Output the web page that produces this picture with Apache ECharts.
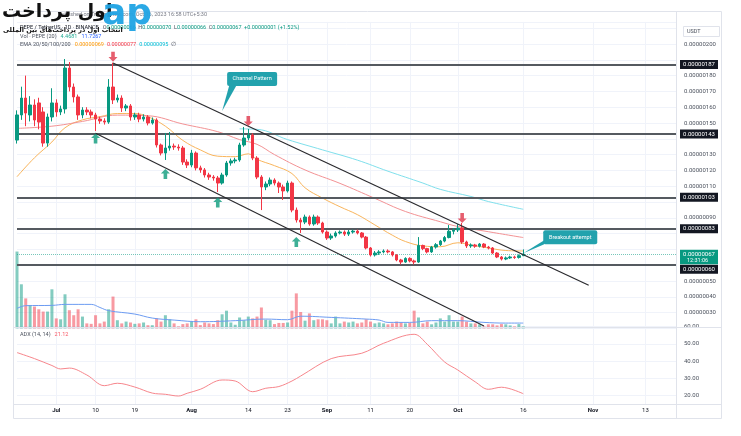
<!DOCTYPE html>
<html><head><meta charset="utf-8"><title>PEPE / TetherUS</title>
<script src="https://cdn.jsdelivr.net/npm/echarts@6/dist/echarts.min.js"></script>
<style>html,body{margin:0;padding:0;background:#fff}#c{width:741px;height:436px}</style>
</head><body><div id="c"></div>
<script>
// ---- data (prices in units of 0.00000001 USDT) ----
const SCALE = 1e-8;
const START_DATE = '2023-06-22';
const DAY_COUNT = 152;
const tickDates = ['2023-07-01','2023-07-10','2023-07-19','2023-08-01','2023-08-14','2023-08-23','2023-09-01','2023-09-11','2023-09-20','2023-10-01','2023-10-16','2023-11-01','2023-11-13'];
const tickLabels = ['Jul','10','19','Aug','14','23','Sep','11','20','Oct','16','Nov','13'];
const monthLabels = ['Jul','Aug','Sep','Oct','Nov'];
// [open, close, low, high]
const ohlc = [
[139.2,155.1,137.0,158.0],[155.1,165.8,152.0,173.0],[165.8,156.3,148.0,180.0],[155.1,161.4,151.0,167.0],
[161.4,151.9,148.0,165.0],[162.7,150.6,146.0,166.0],[157.0,137.3,135.0,160.0],[137.3,153.8,135.0,156.0],
[153.8,162.7,151.0,172.0],[162.7,157.0,154.0,165.0],[157.0,158.9,155.0,161.0],[158.9,184.8,156.0,190.5],
[184.8,172.8,170.0,188.6],[172.8,166.5,163.0,175.0],[166.5,155.1,152.0,168.0],[155.1,158.2,153.0,160.0],
[158.2,157.0,155.0,160.0],[157.0,155.1,153.0,158.5],[155.1,152.5,144.9,156.5],[152.5,151.3,149.5,154.0],
[151.3,150.6,149.0,153.0],[150.6,172.8,149.5,177.8],[172.8,164.6,162.0,188.2],[164.6,165.8,163.0,168.0],
[165.8,159.5,157.0,167.5],[159.5,160.8,157.5,162.0],[160.8,153.8,151.5,162.0],[153.8,155.1,152.0,156.5],
[155.1,152.5,150.5,156.5],[152.5,153.8,151.0,155.5],[153.8,150.0,148.5,155.0],[150.0,151.9,149.0,153.5],
[151.9,136.1,134.5,153.0],[136.1,131.0,129.5,137.0],[131.0,134.2,126.6,143.7],[134.2,135.4,132.5,144.3],
[135.4,134.8,133.0,137.0],[134.8,134.2,132.5,136.5],[134.2,125.3,123.5,135.5],[125.3,123.4,121.5,127.0],
[123.4,131.0,122.0,133.0],[131.0,121.6,120.0,132.0],[121.6,120.3,118.5,123.0],[120.3,117.1,115.5,121.5],
[117.1,115.8,114.0,118.5],[115.8,115.2,113.5,117.0],[115.2,112.0,106.3,116.5],[112.0,117.1,111.0,118.5],
[117.1,124.7,116.0,126.0],[124.7,126.0,123.0,127.5],[126.0,126.6,124.5,128.0],[126.6,136.1,125.5,137.5],
[136.1,140.5,135.0,147.5],[140.5,142.4,139.0,146.2],[142.4,127.8,126.5,143.5],[127.8,115.8,114.5,129.0],
[115.8,109.5,94.9,117.0],[109.5,111.4,107.5,113.0],[111.4,113.9,110.0,115.5],[113.9,112.0,110.5,115.0],
[112.0,109.5,105.7,113.0],[109.5,107.0,101.3,111.0],[107.0,112.0,106.0,113.5],[112.0,94.9,93.5,113.0],
[94.9,88.6,87.0,96.5],[88.6,87.3,80.4,90.0],[87.3,90.5,86.0,92.0],[90.5,86.1,85.0,91.5],
[86.1,90.5,85.0,92.0],[90.5,86.7,85.5,91.5],[86.7,81.0,80.0,87.5],[81.0,77.2,76.0,82.0],
[77.2,78.5,76.0,80.0],[78.5,80.4,77.5,81.5],[80.4,81.0,79.5,82.0],[81.0,79.7,78.5,82.0],
[79.7,81.0,78.5,82.3],[81.0,81.6,80.0,82.5],[81.6,80.4,79.5,82.5],[80.4,77.8,77.0,81.0],
[77.8,70.9,70.0,78.5],[70.9,66.5,65.5,71.5],[66.5,67.7,65.5,69.0],[67.7,68.4,66.5,69.5],
[68.4,69.0,67.5,70.0],[69.0,68.4,67.5,70.0],[68.4,66.5,65.5,69.0],[66.5,63.3,62.5,67.0],
[63.3,62.0,60.5,64.0],[62.0,64.3,61.5,65.0],[64.3,62.7,61.8,65.0],[62.7,62.0,60.5,63.5],
[62.0,72.5,61.5,77.8],[72.5,70.5,69.5,73.0],[70.5,68.4,67.5,71.0],[68.4,71.5,67.8,72.2],
[71.5,73.0,70.5,74.0],[73.0,75.3,72.2,76.0],[75.3,77.5,74.5,78.5],[77.5,81.5,77.0,85.4],
[81.5,82.3,79.5,83.5],[82.3,83.5,81.0,86.0],[83.5,74.7,73.5,86.7],[74.7,72.2,70.9,75.5],
[72.2,72.8,71.0,73.8],[72.8,72.0,71.0,73.5],[72.0,73.4,71.2,74.0],[73.4,71.5,70.8,74.0],
[71.5,70.9,70.0,72.2],[70.9,67.7,67.0,71.5],[67.7,65.2,64.5,68.3],[65.2,63.9,63.0,65.8],
[63.9,64.6,63.2,65.5],[64.6,65.2,64.0,66.0],[65.2,64.9,64.0,66.0],[64.9,66.0,64.2,66.8],
[66.0,67.0,66.0,70.0]
];
// volume (trillions of PEPE)
const volumes = [169,97,66,51,48,42,37,37,86,22,20,75,40,29,42,26,11,10,29,11,15,42,70,18,11,15,13,10,11,13,7,7,22,15,29,20,11,4.4,9.5,11,15,20,7.3,13,11,9.5,18,31,39,13,8,24,18,26,22,26,46,19,18,9.5,12,12,13,39,77,36,17,33,18,20,20,18,11,26,11,15,13,15,11,13,20,15,11,13,11,9,11,15,13,11,12,39,24,11,15,9,13,22,15,29,15,15,26,15,11,11,9,4.4,9,9,6.6,9.5,9,6.6,4.4,9.5,4.4681];
const volumeMA = [['2023-06-22',44],['2023-06-24',50],['2023-06-30',50.6],['2023-07-03',52.8],['2023-07-09',52.8],['2023-07-11',46],['2023-07-13',39],['2023-07-19',31.5],['2023-07-23',22.7],['2023-07-28',18.3],['2023-08-03',14.7],['2023-08-11',17],['2023-08-18',20.5],['2023-08-23',19.1],['2023-08-26',26.8],['2023-09-02',24.2],['2023-09-10',20.5],['2023-09-13',18.3],['2023-09-15',13.2],['2023-09-20',13.2],['2023-09-25',17],['2023-10-01',17],['2023-10-07',13.2],['2023-10-12',11.7],['2023-10-16',11.7267]];
const ema20 = [['2023-06-22',116],['2023-06-26',128],['2023-06-30',138],['2023-07-03',147],['2023-07-07',152],['2023-07-11',154],['2023-07-15',156],['2023-07-19',156],['2023-07-22',154],['2023-07-26',148],['2023-07-30',139],['2023-08-03',133],['2023-08-07',129],['2023-08-11',128.7],['2023-08-14',130.5],['2023-08-16',127],['2023-08-20',123],['2023-08-24',118],['2023-08-27',109],['2023-08-31',102.5],['2023-09-04',97],['2023-09-08',92],['2023-09-12',85.5],['2023-09-16',79],['2023-09-19',75],['2023-09-23',72.2],['2023-09-27',71.7],['2023-10-01',74.2],['2023-10-04',72.8],['2023-10-08',70.9],['2023-10-12',69.3],['2023-10-16',69]];
const ema50 = [['2023-06-22',146.6],['2023-06-30',148],['2023-07-07',151],['2023-07-15',155],['2023-07-22',154.6],['2023-07-30',149.4],['2023-08-07',144.5],['2023-08-12',139.5],['2023-08-16',136.5],['2023-08-20',130],['2023-08-27',120.3],['2023-09-04',111.8],['2023-09-12',102.3],['2023-09-19',94],['2023-09-27',87.5],['2023-10-01',84.5],['2023-10-08',81.2],['2023-10-16',77.5]];
const ema100 = [['2023-08-12',146.3],['2023-08-16',146],['2023-08-23',139.5],['2023-08-31',133],['2023-09-08',126.5],['2023-09-15',119.5],['2023-09-23',112],['2023-09-27',108],['2023-10-04',103.5],['2023-10-08',100.3],['2023-10-16',95.4]];
const adx = [['2023-06-22',45],['2023-06-26',41.5],['2023-06-30',37.5],['2023-07-02',35.5],['2023-07-04',36],['2023-07-08',32],['2023-07-12',25.8],['2023-07-15',27.2],['2023-07-19',25],['2023-07-23',21.5],['2023-07-26',20.8],['2023-07-29',19.8],['2023-07-31',21.4],['2023-08-03',23.7],['2023-08-08',29.1],['2023-08-11',28.5],['2023-08-15',22.3],['2023-08-18',24.3],['2023-08-21',25.3],['2023-08-24',28.5],['2023-08-26',31.4],['2023-09-02',41.5],['2023-09-09',44.6],['2023-09-14',50.4],['2023-09-21',55.6],['2023-09-24',49.8],['2023-09-28',39.5],['2023-10-01',34.9],['2023-10-05',28],['2023-10-08',23.7],['2023-10-11',24.9],['2023-10-16',21.12]];
const levels = [187, 143, 103, 83, 60];
const lastPrice = 67;
const channelUpper = [['2023-07-14',188.0],['2023-10-31',47.3]];
const channelLower = [['2023-07-10',143.5],['2023-10-07',21.5]];
const sellArrows = [['2023-07-14',192.0],['2023-08-14',151.3],['2023-10-02',89.9]];
const buyArrows = [['2023-07-10',140.2],['2023-07-26',117.7],['2023-08-07',99.7],['2023-08-25',74.7]];
const callouts = [
  {text:'Channel Pattern', at:['2023-08-08',157.6], box:[5,-39,50,14], tail:[[7,-25],[14,-25]]},
  {text:'Breakout attempt', at:['2023-10-16',67.6], box:[20,-23,54,14], tail:[[21,-13],[21,-9]]}
];

// ---- build ----
const cats = [];
{ const d0 = Date.parse(START_DATE + 'T00:00:00Z');
  for (let i = 0; i < DAY_COUNT; i++) cats.push(new Date(d0 + i * 86400000).toISOString().slice(0, 10)); }
const tickMap = new Map(tickDates.map((d, i) => [d, tickLabels[i]]));
const isTick = (i, v) => tickMap.has(v);
const UP = '#089981', DOWN = '#f23645';
const FONT = 'Roboto';
const GRID_C = '#f0f3fa';
const hiddenPriceLabels = new Set([20, 60, 70, 80, 100, 140, 190, 210]);

const chart = echarts.init(document.getElementById('c'), null, {renderer: 'canvas'});
const option = {
  animation: false,
  backgroundColor: '#ffffff',
  grid: [
    {left: 17, right: 65, top: 21.9, height: 306.5},
    {left: 17, right: 65, top: 326.7, height: 77.6}
  ],
  xAxis: [
    {type: 'category', gridIndex: 0, data: cats, boundaryGap: false,
     axisLine: {show: false}, axisTick: {show: false}, axisLabel: {show: false},
     splitLine: {show: true, interval: isTick, lineStyle: {color: GRID_C, width: 1}}},
    {type: 'category', gridIndex: 1, data: cats, boundaryGap: false,
     axisLine: {show: false}, axisTick: {show: false},
     axisLabel: {interval: isTick, margin: 3, fontFamily: FONT, fontSize: 6, color: '#131722',
       formatter: v => { const t = tickMap.get(v) || ''; return monthLabels.includes(t) ? '{m|' + t + '}' : t; },
       rich: {m: {fontWeight: 'bold', fontSize: 6, fontFamily: FONT, color: '#131722'}}},
     splitLine: {show: true, interval: isTick, lineStyle: {color: GRID_C, width: 1}}}
  ],
  yAxis: [
    {type: 'value', gridIndex: 0, position: 'right', min: 20, max: 214, interval: 10, scale: false,
     axisLine: {show: false}, axisTick: {show: false},
     axisLabel: {margin: 8, fontFamily: FONT, fontSize: 6, color: '#4c525e', showMaxLabel: false,
       formatter: v => { const r = Math.round(v); return hiddenPriceLabels.has(r) ? '' : (r * SCALE).toFixed(8); }},
     splitLine: {lineStyle: {color: GRID_C, width: 1}}},
    {type: 'value', gridIndex: 0, min: 0, max: 674, show: false, splitLine: {show: false}},
    {type: 'value', gridIndex: 1, position: 'right', min: 15, max: 60, interval: 5,
     axisLine: {show: false}, axisTick: {show: false},
     axisLabel: {margin: 8, fontFamily: FONT, fontSize: 6, color: '#4c525e',
       formatter: v => (Math.round(v) % 10 === 0 ? v.toFixed(2) : '')},
     splitLine: {lineStyle: {color: ['rgba(0,0,0,0)', GRID_C], width: 1}}}
  ],
  series: [
    {type: 'bar', name: 'Vol', xAxisIndex: 0, yAxisIndex: 1, barWidth: 3, z: 1,
     data: volumes.map((v, i) => ({value: v, itemStyle: {color: ohlc[i][1] >= ohlc[i][0] ? 'rgba(8,153,129,0.5)' : 'rgba(242,54,69,0.5)'}}))},
    {type: 'line', name: 'Vol MA', xAxisIndex: 0, yAxisIndex: 1, data: volumeMA, showSymbol: false, smooth: 0.4, z: 2,
     lineStyle: {color: '#6d9cf2', width: 1}},
    {type: 'line', name: 'EMA20', xAxisIndex: 0, yAxisIndex: 0, data: ema20, showSymbol: false, smooth: 0.4, z: 3,
     lineStyle: {color: '#f9b55c', width: 1}},
    {type: 'line', name: 'EMA50', xAxisIndex: 0, yAxisIndex: 0, data: ema50, showSymbol: false, smooth: 0.4, z: 3,
     lineStyle: {color: '#f39294', width: 1}},
    {type: 'line', name: 'EMA100', xAxisIndex: 0, yAxisIndex: 0, data: ema100, showSymbol: false, smooth: 0.4, z: 3,
     lineStyle: {color: '#7fe0ec', width: 1}},
    {type: 'candlestick', name: 'PEPE', xAxisIndex: 0, yAxisIndex: 0, data: ohlc, barWidth: 3, z: 5,
     itemStyle: {color: UP, color0: DOWN, borderColor: UP, borderColor0: DOWN, borderWidth: 1},
     markLine: {symbol: ['none', 'none'], silent: true, label: {show: false}, z: 4,
       data: levels.map(v => ({yAxis: v, lineStyle: {color: '#555a60', width: 2, type: 'solid'}}))
         .concat([{yAxis: lastPrice, lineStyle: {color: 'rgba(8,153,129,0.55)', width: 1, type: 'dotted'}}])}},
    {type: 'line', name: 'Channel upper', xAxisIndex: 0, yAxisIndex: 0, data: channelUpper, showSymbol: false, z: 6,
     lineStyle: {color: '#2a2a2e', width: 1.2}},
    {type: 'line', name: 'Channel lower', xAxisIndex: 0, yAxisIndex: 0, data: channelLower, showSymbol: false, z: 6,
     lineStyle: {color: '#2a2a2e', width: 1.2}},
    {type: 'scatter', name: 'Sell', xAxisIndex: 0, yAxisIndex: 0, data: sellArrows, z: 7,
     symbol: 'path://M3,0 L7,0 L7,6 L10,6 L5,11 L0,6 L3,6 Z', symbolSize: [9, 10],
     itemStyle: {color: '#e0364a'}},
    {type: 'scatter', name: 'Buy', xAxisIndex: 0, yAxisIndex: 0, data: buyArrows, z: 7,
     symbol: 'path://M5,0 L10,5 L7,5 L7,11 L3,11 L3,5 L0,5 Z', symbolSize: [9, 10],
     itemStyle: {color: '#0c9b7c'}},
    {type: 'line', name: 'ADX', xAxisIndex: 1, yAxisIndex: 2, data: adx, showSymbol: false, smooth: 0.35,
     lineStyle: {color: '#f7868c', width: 1}}
  ]
};
chart.setOption(option);

// ---- overlay: texts, price boxes, callouts ----
const ctx = document.createElement('canvas').getContext('2d');
function tw(t, size, weight) { ctx.font = (weight || 'normal') + ' ' + size + 'px ' + FONT; return ctx.measureText(t).width; }
function row(segs, x, y, size) {
  const out = [];
  for (const s of segs) {
    out.push({type: 'text', x: x, y: y, z: 50,
      style: {text: s[0], fill: s[1], font: 'normal ' + size + 'px ' + FONT, textVerticalAlign: 'middle'}});
    x += tw(s[0], size) + (s[2] || 0);
  }
  return out;
}
const px = (d, v, g) => chart.convertToPixel({xAxisIndex: g || 0, yAxisIndex: g ? 2 : 0}, [cats.indexOf(d), v]);
const G = [];
// frame lines
const frame = '#e0e3eb';
G.push({type: 'line', z: 40, shape: {x1: 676.5, y1: 12, x2: 676.5, y2: 418}, style: {stroke: frame, lineWidth: 1}});
G.push({type: 'line', z: 40, shape: {x1: 14, y1: 327.5, x2: 721, y2: 327.5}, style: {stroke: frame, lineWidth: 1}});
G.push({type: 'line', z: 40, shape: {x1: 14, y1: 404.5, x2: 721, y2: 404.5}, style: {stroke: frame, lineWidth: 1}});
G.push({type: 'rect', z: 40, shape: {x: 13.5, y: 11.5, width: 708, height: 407}, style: {fill: null, stroke: frame, lineWidth: 1}});
// legend rows
G.push({type: 'text', x: 207, y: 15, z: 50, style: {text: 'Published on TradingView.com, Oct 16, 2023 16:58 UTC+5:30', fill: '#787b86', font: 'normal 5.5px ' + FONT, textAlign: 'right', textVerticalAlign: 'middle'}});
G.push(...row([['PEPE / TetherUS · 1D · BINANCE', '#131722', 4], ['O', '#4c525e'], ['0.00000066', UP, 2.5], ['H', '#4c525e'], ['0.00000070', UP, 2.5], ['L', '#4c525e'], ['0.00000066', UP, 2.5], ['C', '#4c525e'], ['0.00000067', UP, 2.5], ['+0.00000001 (+1.52%)', UP]], 20, 28, 5.5));
G.push(...row([['Vol · PEPE (20)', '#4c525e', 4], ['4.4681', '#22ab94', 4], ['11.7267', '#2962ff']], 20, 36.5, 5.5));
G.push(...row([['EMA 20/50/100/200', '#4c525e', 4], ['0.00000069', '#ff9800', 3], ['0.00000077', '#f23645', 3], ['0.00000095', '#00bcd4', 3], ['∅', '#4c525e']], 20, 45, 5.5));
G.push(...row([['ADX (14, 14)', '#4c525e', 4], ['21.12', '#f7525f']], 20, 334.3, 5.5));
// logo (watermark of the source)
G.push({type: 'text', x: 2, y: 3, z: 60, style: {text: 'اول پرداخت', fill: '#111', font: 'bold 19px "DejaVu Sans"'}});
G.push({type: 'text', x: 3, y: 27, z: 60, style: {text: 'انتخاب اول در پرداخت‌های بین المللی', fill: '#111', font: 'bold 6.5px "DejaVu Sans"'}});
G.push({type: 'text', x: 102, y: -3, z: 60, style: {text: 'ap', font: 'bold 36px "DejaVu Sans"', fill: '#1fa3e4', opacity: 0.95}});
// USDT
G.push({type: 'rect', z: 50, shape: {x: 683.5, y: 26.5, width: 36, height: 10}, style: {fill: '#fff', stroke: frame}});
G.push({type: 'text', x: 687, y: 31.5, z: 51, style: {text: 'USDT', fill: '#4c525e', font: 'normal 5.5px ' + FONT, textVerticalAlign: 'middle'}});
// level boxes on the price scale
levels.forEach(v => {
  const y = px(cats[0], v)[1] + (v === 60 ? 4 : 0);
  G.push({type: 'rect', z: 55, shape: {x: 680, y: y - 4.5, width: 38, height: 9}, style: {fill: '#131722'}});
  G.push({type: 'text', x: 699, y: y, z: 56, style: {text: (v * SCALE).toFixed(8), fill: '#fff', font: 'normal 6px ' + FONT, textAlign: 'center', textVerticalAlign: 'middle'}});
});
{ const y = px(cats[0], lastPrice)[1];
  G.push({type: 'rect', z: 57, shape: {x: 680, y: y - 4.5, width: 38, height: 14.5}, style: {fill: UP}});
  G.push({type: 'text', x: 699, y: y, z: 58, style: {text: (lastPrice * SCALE).toFixed(8), fill: '#fff', font: 'normal 6px ' + FONT, textAlign: 'center', textVerticalAlign: 'middle'}});
  G.push({type: 'text', x: 687, y: y + 6.8, z: 58, style: {text: '12:31:06', fill: '#fff', font: 'normal 5.5px ' + FONT, textVerticalAlign: 'middle'}}); }
// callouts
callouts.forEach(c => {
  const [tx, ty] = px(c.at[0], c.at[1]);
  const [bx, by, bw, bh] = c.box;
  const col = '#22a2ad';
  G.push({type: 'polygon', z: 60, shape: {points: [[tx, ty], [tx + c.tail[0][0], ty + c.tail[0][1]], [tx + c.tail[1][0], ty + c.tail[1][1]]]}, style: {fill: col}});
  G.push({type: 'rect', z: 60, shape: {x: tx + bx, y: ty + by, width: bw, height: bh, r: 2}, style: {fill: col}});
  G.push({type: 'text', z: 61, x: tx + bx + bw / 2, y: ty + by + bh / 2, style: {text: c.text, fill: '#fff', font: 'normal 5.5px ' + FONT, textAlign: 'center', textVerticalAlign: 'middle'}});
});
chart.setOption({graphic: G});
</script></body></html>
